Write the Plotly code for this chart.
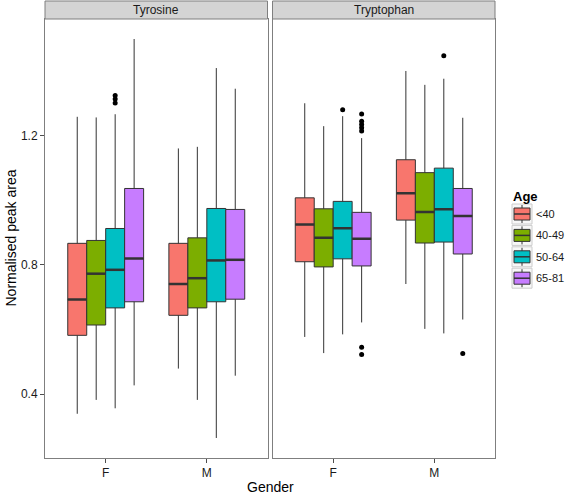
import plotly.graph_objects as go

panels = ["Tyrosine", "Tryptophan"]
genders = ["F", "M"]
ages = ["<40", "40-49", "50-64", "65-81"]
colors = ["#F8766D", "#7CAE00", "#00BFC4", "#C77CFF"]

# stats indexed [gender][age]
tyr_lower = [[0.339, 0.382, 0.356, 0.427], [0.479, 0.382, 0.264, 0.457]]
tyr_q1 = [[0.582, 0.614, 0.667, 0.686], [0.644, 0.667, 0.686, 0.694]]
tyr_median = [[0.693, 0.773, 0.785, 0.820], [0.741, 0.759, 0.814, 0.816]]
tyr_q3 = [[0.867, 0.876, 0.913, 1.037], [0.867, 0.884, 0.975, 0.972]]
tyr_upper = [[1.259, 1.257, 1.267, 1.500], [1.161, 1.166, 1.410, 1.346]]
tyr_outliers = [[[], [], [1.325, 1.314, 1.302], []], [[], [], [], []]]

trp_lower = [[0.577, 0.527, 0.585, 0.622], [0.741, 0.602, 0.588, 0.631]]
trp_q1 = [[0.810, 0.794, 0.819, 0.797], [0.939, 0.868, 0.871, 0.834]]
trp_median = [[0.925, 0.884, 0.914, 0.881], [1.022, 0.964, 0.973, 0.952]]
trp_q3 = [[1.008, 0.974, 0.997, 0.963], [1.126, 1.086, 1.100, 1.037]]
trp_upper = [[1.301, 1.230, 1.261, 1.193], [1.401, 1.358, 1.377, 1.256]]
trp_outliers = [[[], [], [1.281], [1.268, 1.245, 1.235, 1.225, 1.215, 0.545, 0.523]],
                [[], [], [1.448], [0.526]]]

y_ticks = [0.4, 0.8, 1.2]

stats = [
    (tyr_lower, tyr_q1, tyr_median, tyr_q3, tyr_upper, tyr_outliers),
    (trp_lower, trp_q1, trp_median, trp_q3, trp_upper, trp_outliers),
]

dodge = 0.75
bw = dodge / len(ages)
line_col = "#333333"

fig = go.Figure()
for p, (lo, q1, md, q3, up, outl) in enumerate(stats):
    xa = "x" if p == 0 else "x2"
    ya = "y" if p == 0 else "y2"
    for a, age in enumerate(ages):
        xs = [g + 1 + (a - 1.5) * bw for g in range(len(genders))]
        fig.add_trace(go.Box(
            x=xs,
            lowerfence=[lo[g][a] for g in range(2)],
            q1=[q1[g][a] for g in range(2)],
            median=[md[g][a] for g in range(2)],
            q3=[q3[g][a] for g in range(2)],
            upperfence=[up[g][a] for g in range(2)],
            width=bw,
            whiskerwidth=0,
            fillcolor=colors[a],
            line=dict(color=line_col, width=1),
            name=age, showlegend=False,
            boxpoints=False, hoverinfo="skip",
            xaxis=xa, yaxis=ya,
        ))
        # thicker median segments
        mx, my = [], []
        for g in range(2):
            mx += [xs[g] - bw / 2, xs[g] + bw / 2, None]
            my += [md[g][a], md[g][a], None]
        fig.add_trace(go.Scatter(x=mx, y=my, mode="lines",
                                 line=dict(color=line_col, width=2.5),
                                 showlegend=False, hoverinfo="skip",
                                 xaxis=xa, yaxis=ya))
        ox, oy = [], []
        for g in range(2):
            for v in outl[g][a]:
                ox.append(xs[g])
                oy.append(v)
        if ox:
            fig.add_trace(go.Scatter(x=ox, y=oy, mode="markers",
                                     marker=dict(color="black", size=5),
                                     showlegend=False, hoverinfo="skip",
                                     xaxis=xa, yaxis=ya))

W, H = 567, 495
ml, mr, mt, mb = 45, 72, 19, 37
pw = W - ml - mr
ph = H - mt - mb
gap = 5 / pw


def px_x(px):
    return (px - ml) / pw


def px_y(py):
    return (H - mb - py) / ph


axis_common = dict(
    range=[0.4, 2.6], tickvals=[1, 2], ticktext=genders,
    showgrid=False, zeroline=False, showline=True, mirror=True,
    linecolor="#7f7f7f", linewidth=1, ticks="outside", ticklen=4,
    tickcolor="#4d4d4d", tickfont=dict(size=12, color="#1a1a1a"),
)
yaxis_common = dict(
    range=[0.202, 1.562], tickvals=y_ticks, ticktext=[f"{v:.1f}" for v in y_ticks],
    showgrid=False, zeroline=False, showline=True, mirror=True,
    linecolor="#7f7f7f", linewidth=1, ticks="outside", ticklen=4,
    tickcolor="#4d4d4d", tickfont=dict(size=12, color="#1a1a1a"),
)
fig.update_layout(
    width=W, height=H,
    margin=dict(l=ml, r=mr, t=mt, b=mb, autoexpand=False),
    paper_bgcolor="white", plot_bgcolor="white",
    font=dict(family="Liberation Sans, Arial, sans-serif", color="black"),
    boxmode="overlay",
    showlegend=False,
    xaxis=dict(domain=[0, 0.5 - gap / 2], **axis_common),
    xaxis2=dict(domain=[0.5 + gap / 2, 1], anchor="y2", **axis_common),
    yaxis=dict(domain=[0, 1], anchor="x", **yaxis_common),
    yaxis2=dict(domain=[0, 1], anchor="x2", matches="y", showticklabels=False,
                **{k: v for k, v in yaxis_common.items() if k not in ("ticks",)}, ticks=""),
)

strip_h = 18 / ph
shapes = []
annotations = []
for p, name in enumerate(panels):
    x0 = 0 if p == 0 else 0.5 + gap / 2
    x1 = 0.5 - gap / 2 if p == 0 else 1
    shapes.append(dict(type="rect", xref="paper", yref="paper",
                       x0=x0, x1=x1, y0=1, y1=1 + strip_h,
                       fillcolor="#d4d4d4", line=dict(color="#7f7f7f", width=1)))
    annotations.append(dict(text=name, xref="paper", yref="paper",
                            x=(x0 + x1) / 2, y=1 + strip_h / 2, showarrow=False,
                            xanchor="center", yanchor="middle",
                            font=dict(size=12, color="#1a1a1a")))
annotations.append(dict(text="Normalised peak area", xref="paper", yref="paper",
                        x=-35 / pw, y=0.5, textangle=-90, showarrow=False,
                        xanchor="center", yanchor="middle", font=dict(size=14)))
annotations.append(dict(text="Gender", xref="paper", yref="paper",
                        x=0.5, y=-19 / ph, showarrow=False,
                        xanchor="center", yanchor="top", font=dict(size=14)))

# ggplot-style legend
leg_left, leg_title_y, leg_first_top, leg_cell, leg_step = 512, 196, 204, 20, 21.4
annotations.append(dict(text="<b>Age</b>", xref="paper", yref="paper",
                        x=px_x(leg_left - 1), y=px_y(leg_title_y), showarrow=False,
                        xanchor="left", yanchor="middle", font=dict(size=13)))
for a, age in enumerate(ages):
    top = leg_first_top + a * leg_step
    cx = leg_left + leg_cell / 2
    cy = top + leg_cell / 2
    shapes.append(dict(type="rect", xref="paper", yref="paper",
                       x0=px_x(leg_left), x1=px_x(leg_left + leg_cell),
                       y0=px_y(top + leg_cell), y1=px_y(top),
                       fillcolor="#f7f7f7", line=dict(color="#cccccc", width=1)))
    shapes.append(dict(type="line", xref="paper", yref="paper",
                       x0=px_x(cx), x1=px_x(cx),
                       y0=px_y(top + leg_cell - 1), y1=px_y(top + 1),
                       line=dict(color=line_col, width=1)))
    shapes.append(dict(type="rect", xref="paper", yref="paper",
                       x0=px_x(leg_left + 2), x1=px_x(leg_left + leg_cell - 2),
                       y0=px_y(cy + 6), y1=px_y(cy - 6),
                       fillcolor=colors[a], line=dict(color=line_col, width=1)))
    shapes.append(dict(type="line", xref="paper", yref="paper",
                       x0=px_x(leg_left + 2), x1=px_x(leg_left + leg_cell - 2),
                       y0=px_y(cy), y1=px_y(cy),
                       line=dict(color=line_col, width=1.5)))
    annotations.append(dict(text=age, xref="paper", yref="paper",
                            x=px_x(leg_left + leg_cell + 3), y=px_y(cy), showarrow=False,
                            xanchor="left", yanchor="middle", borderpad=0,
                            font=dict(size=11, color="#1a1a1a")))
fig.update_layout(shapes=shapes, annotations=annotations)

fig.write_html("out.html", config={"displayModeBar": False},
               post_script="document.body.style.margin='0';document.body.style.overflow='hidden';")
